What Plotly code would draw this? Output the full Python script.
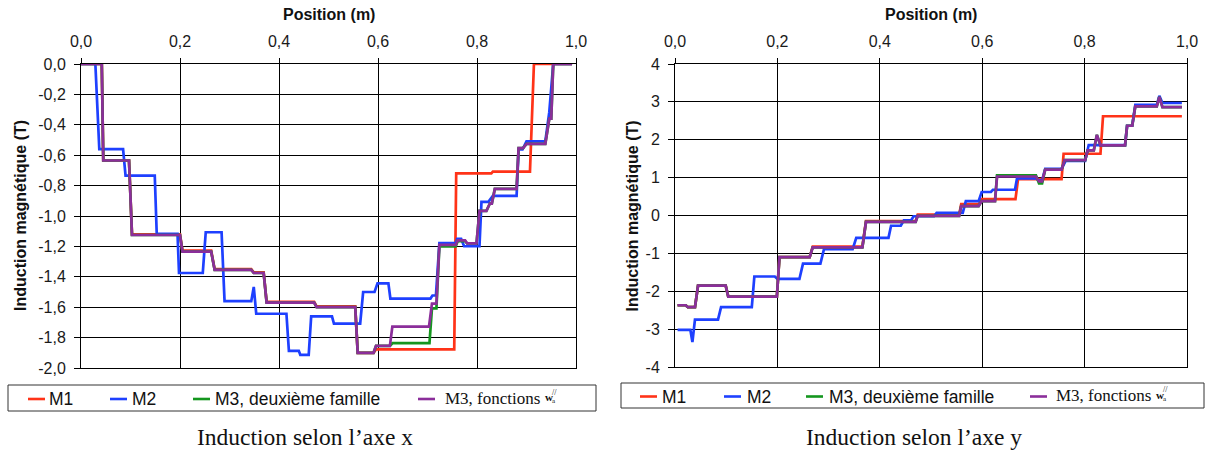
import plotly.graph_objects as go

# ---------------------------------------------------------------------------
# Induction along x (T) versus position (m)
# ---------------------------------------------------------------------------
bx_m1_x = [0.0, 0.042, 0.045, 0.097, 0.103, 0.200, 0.205, 0.263, 0.270, 0.344, 0.349,
           0.369, 0.375, 0.471, 0.476, 0.554, 0.559, 0.591, 0.596, 0.754, 0.758, 0.829,
           0.832, 0.907, 0.915, 0.992]
bx_m1_y = [0.0, 0.0, -0.635, -0.635, -1.12, -1.12, -1.228, -1.228, -1.35, -1.35, -1.37,
           -1.37, -1.565, -1.565, -1.595, -1.595, -1.90, -1.90, -1.878, -1.878, -0.719,
           -0.719, -0.708, -0.708, 0.0, 0.0]

bx_m2_x = [0.0, 0.029, 0.037, 0.085, 0.090, 0.149, 0.153, 0.195, 0.198, 0.246, 0.252,
           0.284, 0.290, 0.344, 0.349, 0.354, 0.415, 0.420, 0.440, 0.443, 0.460, 0.465,
           0.507, 0.511, 0.564, 0.570, 0.593, 0.599, 0.621, 0.625, 0.706, 0.710, 0.717,
           0.724, 0.757, 0.760, 0.768, 0.774, 0.805, 0.809, 0.823, 0.832, 0.880, 0.884,
           0.892, 0.900, 0.938, 0.946, 0.954, 0.992]
bx_m2_y = [0.0, 0.0, -0.56, -0.56, -0.735, -0.735, -1.118, -1.118, -1.375, -1.375, -1.107,
           -1.107, -1.56, -1.56, -1.467, -1.643, -1.643, -1.887, -1.887, -1.913, -1.913,
           -1.66, -1.66, -1.708, -1.708, -1.50, -1.50, -1.443, -1.443, -1.543, -1.543,
           -1.523, -1.523, -1.179, -1.179, -1.151, -1.151, -1.199, -1.199, -0.907, -0.907,
           -0.867, -0.867, -0.562, -0.562, -0.509, -0.509, -0.317, 0.0, 0.0]

bx_m3f_x = [0.0, 0.042, 0.045, 0.097, 0.103, 0.200, 0.205, 0.263, 0.270, 0.344, 0.349,
            0.369, 0.375, 0.471, 0.476, 0.554, 0.559, 0.591, 0.596, 0.624, 0.629, 0.704,
            0.709, 0.718, 0.724, 0.757, 0.761, 0.776, 0.780, 0.799, 0.805, 0.819, 0.826,
            0.830, 0.836, 0.880, 0.884, 0.893, 0.900, 0.938, 0.946, 0.950, 0.954, 0.992]
bx_m3f_y = [0.0, 0.0, -0.635, -0.635, -1.125, -1.125, -1.235, -1.235, -1.355, -1.355,
            -1.375, -1.375, -1.57, -1.57, -1.60, -1.60, -1.90, -1.90, -1.855, -1.855,
            -1.837, -1.837, -1.608, -1.608, -1.20, -1.20, -1.165, -1.165, -1.18, -1.18,
            -0.966, -0.966, -0.918, -0.918, -0.822, -0.822, -0.553, -0.553, -0.525, -0.525,
            -0.36, -0.36, 0.0, 0.0]

bx_m3w_x = [0.0, 0.042, 0.045, 0.097, 0.103, 0.200, 0.205, 0.263, 0.270, 0.344, 0.349,
            0.369, 0.375, 0.471, 0.476, 0.554, 0.559, 0.591, 0.596, 0.624, 0.629, 0.703,
            0.709, 0.718, 0.724, 0.757, 0.761, 0.776, 0.780, 0.799, 0.805, 0.819, 0.826,
            0.830, 0.836, 0.880, 0.884, 0.893, 0.900, 0.938, 0.946, 0.950, 0.954, 0.992]
bx_m3w_y = [0.0, 0.0, -0.635, -0.635, -1.125, -1.125, -1.235, -1.235, -1.355, -1.355,
            -1.375, -1.375, -1.57, -1.57, -1.60, -1.60, -1.90, -1.90, -1.855, -1.855,
            -1.728, -1.728, -1.576, -1.576, -1.19, -1.19, -1.16, -1.16, -1.18, -1.18,
            -0.966, -0.966, -0.918, -0.918, -0.822, -0.822, -0.553, -0.553, -0.525, -0.525,
            -0.36, -0.36, 0.0, 0.0]

# ---------------------------------------------------------------------------
# Induction along y (T) versus position (m)
# ---------------------------------------------------------------------------
by_m1_x = [0.005, 0.021, 0.025, 0.039, 0.045, 0.099, 0.104, 0.199, 0.204, 0.263, 0.269,
           0.366, 0.373, 0.470, 0.474, 0.555, 0.559, 0.593, 0.599, 0.665, 0.670, 0.755,
           0.759, 0.831, 0.836, 0.990]
by_m1_y = [-2.37, -2.37, -2.42, -2.42, -1.85, -1.85, -2.14, -2.14, -1.10, -1.10, -0.82,
           -0.82, -0.15, -0.15, 0.025, 0.025, 0.30, 0.30, 0.43, 0.43, 0.96, 0.96, 1.63,
           1.63, 2.62, 2.62]

by_m2_x = [0.005, 0.030, 0.034, 0.039, 0.084, 0.090, 0.150, 0.155, 0.195, 0.200, 0.243,
           0.250, 0.284, 0.291, 0.347, 0.354, 0.417, 0.422, 0.441, 0.447, 0.461, 0.466,
           0.506, 0.511, 0.562, 0.568, 0.593, 0.599, 0.617, 0.621, 0.664, 0.668, 0.705,
           0.711, 0.717, 0.723, 0.755, 0.763, 0.801, 0.808, 0.879, 0.883, 0.893, 0.899,
           0.941, 0.946, 0.952, 0.990]
by_m2_y = [-3.02, -3.02, -3.34, -2.75, -2.75, -2.42, -2.42, -1.61, -1.61, -1.675, -1.675,
           -1.27, -1.27, -0.89, -0.89, -0.59, -0.59, -0.27, -0.27, -0.13, -0.13, -0.02,
           -0.02, 0.07, 0.07, 0.38, 0.38, 0.62, 0.62, 0.68, 0.68, 0.98, 0.98, 0.93, 0.93,
           1.23, 1.23, 1.44, 1.44, 1.86, 1.86, 2.37, 2.37, 2.92, 2.92, 3.16, 2.97, 2.97]

by_m3f_x = [0.005, 0.021, 0.025, 0.039, 0.045, 0.099, 0.104, 0.199, 0.204, 0.263, 0.269,
            0.366, 0.373, 0.470, 0.474, 0.555, 0.559, 0.593, 0.599, 0.625, 0.629, 0.705,
            0.711, 0.717, 0.723, 0.755, 0.761, 0.801, 0.806, 0.818, 0.824, 0.831, 0.879,
            0.883, 0.893, 0.899, 0.941, 0.946, 0.952, 0.990]
by_m3f_y = [-2.37, -2.37, -2.42, -2.42, -1.85, -1.85, -2.14, -2.14, -1.10, -1.10, -0.84,
            -0.84, -0.17, -0.17, -0.01, -0.01, 0.25, 0.25, 0.38, 0.38, 1.06, 1.06, 0.85,
            0.85, 1.21, 1.21, 1.46, 1.46, 1.72, 1.72, 2.13, 1.85, 1.85, 2.37, 2.37, 2.88,
            2.88, 3.13, 2.86, 2.86]

by_m3w_x = [0.005, 0.021, 0.025, 0.039, 0.045, 0.099, 0.104, 0.199, 0.204, 0.263, 0.269,
            0.366, 0.373, 0.470, 0.474, 0.555, 0.559, 0.593, 0.599, 0.625, 0.629, 0.705,
            0.711, 0.717, 0.723, 0.755, 0.761, 0.801, 0.806, 0.818, 0.824, 0.831, 0.879,
            0.883, 0.893, 0.899, 0.941, 0.946, 0.952, 0.990]
by_m3w_y = [-2.37, -2.37, -2.42, -2.42, -1.85, -1.85, -2.14, -2.14, -1.10, -1.10, -0.84,
            -0.84, -0.17, -0.17, -0.01, -0.01, 0.25, 0.25, 0.38, 0.38, 1.03, 1.03, 0.90,
            0.90, 1.21, 1.21, 1.46, 1.46, 1.72, 1.72, 2.13, 1.85, 1.85, 2.37, 2.37, 2.88,
            2.88, 3.13, 2.86, 2.86]

# Axis ticks
pos_ticks = [0.0, 0.2, 0.4, 0.6, 0.8, 1.0]
pos_labels = ["0,0", "0,2", "0,4", "0,6", "0,8", "1,0"]
bx_ticks = [0.0, -0.2, -0.4, -0.6, -0.8, -1.0, -1.2, -1.4, -1.6, -1.8, -2.0]
bx_labels = ["0,0", "-0,2", "-0,4", "-0,6", "-0,8", "-1,0", "-1,2", "-1,4", "-1,6", "-1,8", "-2,0"]
by_ticks = [4, 3, 2, 1, 0, -1, -2, -3, -4]
by_labels = ["4", "3", "2", "1", "0", "-1", "-2", "-3", "-4"]

series_names = ["M1", "M2", "M3, deuxième famille", "M3, fonctions"]
series_colors = ["#FF3318", "#1E40FF", "#14961E", "#8B2E9A"]

SANS = "Liberation Sans, Arial, sans-serif"
SERIF = "Liberation Serif, Times New Roman, serif"

W, H = 1207, 452


def px(x):
    return x / W


def py(y):
    return 1 - y / H


def label(text, x, y, size, family=SANS, xanchor="center", angle=0):
    return dict(text=text, x=px(x), y=py(y), xref="paper", yref="paper",
                xanchor=xanchor, yanchor="middle", textangle=angle, showarrow=False,
                font=dict(family=family, size=size, color="#111"))


fig = go.Figure()

left_data = [(bx_m1_x, bx_m1_y), (bx_m2_x, bx_m2_y), (bx_m3f_x, bx_m3f_y), (bx_m3w_x, bx_m3w_y)]
right_data = [(by_m1_x, by_m1_y), (by_m2_x, by_m2_y), (by_m3f_x, by_m3f_y), (by_m3w_x, by_m3w_y)]

for (xs, ys), name, col in zip(left_data, series_names, series_colors):
    fig.add_trace(go.Scatter(x=xs, y=ys, mode="lines", name=name, showlegend=False,
                             line=dict(color=col, width=2.7), xaxis="x", yaxis="y"))
for (xs, ys), name, col in zip(right_data, series_names, series_colors):
    fig.add_trace(go.Scatter(x=xs, y=ys, mode="lines", name=name, showlegend=False,
                             line=dict(color=col, width=2.7), xaxis="x2", yaxis="y2"))

# plot areas in pixels: x0, x1, top, bottom
L_PLOT = (81, 576, 64, 368)
R_PLOT = (675, 1187, 64, 367)

axis_common = dict(showline=True, linecolor="#000", linewidth=1, mirror=True,
                   showgrid=True, gridcolor="#000", gridwidth=1, zeroline=False,
                   ticks="outside", tickcolor="#000", automargin=False,
                   tickfont=dict(family=SANS, size=16, color="#1a1a1a"))

fig.update_layout(
    width=W, height=H, margin=dict(l=0, r=0, t=0, b=0, pad=0, autoexpand=False),
    paper_bgcolor="white", plot_bgcolor="white",
    xaxis=dict(domain=[px(L_PLOT[0]), px(L_PLOT[1])], anchor="y", side="top", range=[0, 1],
               tickvals=pos_ticks, ticktext=pos_labels, ticklen=5, ticklabelstandoff=5,
               **axis_common),
    yaxis=dict(domain=[py(L_PLOT[3]), py(L_PLOT[2])], anchor="x", range=[-2, 0],
               tickvals=bx_ticks, ticktext=bx_labels, ticklen=6, ticklabelstandoff=5,
               **axis_common),
    xaxis2=dict(domain=[px(R_PLOT[0]), px(R_PLOT[1])], anchor="y2", side="top", range=[0, 1],
                tickvals=pos_ticks, ticktext=pos_labels, ticklen=5, ticklabelstandoff=5,
                **axis_common),
    yaxis2=dict(domain=[py(R_PLOT[3]), py(R_PLOT[2])], anchor="x2", range=[-4, 4],
                tickvals=by_ticks, ticktext=by_labels, ticklen=6, ticklabelstandoff=5,
                **axis_common),
)

annotations = []
shapes = []

for plot, caption, ytitle_x, cap_x in [(L_PLOT, "Induction selon l’axe x", 20, 305),
                                       (R_PLOT, "Induction selon l’axe y", 632, 914)]:
    cx = (plot[0] + plot[1]) / 2
    annotations.append(label("<b>Position (m)</b>", cx, 15, 16))
    annotations.append(label("<b>Induction magnétique (T)</b>", ytitle_x,
                             (plot[2] + plot[3]) / 2, 16, angle=-90))
    annotations.append(label(caption, cap_x, 437, 23.5, family=SERIF))

# legend boxes: (box x0, x1, y0, y1, line starts, text starts)
legend_specs = [
    (8, 596, 385, 411, [28, 110, 193, 418], [47, 130, 213, 443]),
    (621, 1204, 383, 408, [640, 724, 806, 1030], [660, 745, 827, 1054]),
]
for bx0, bx1, by0, by1, line_x, text_x in legend_specs:
    shapes.append(dict(type="rect", xref="paper", yref="paper", x0=px(bx0), x1=px(bx1),
                       y0=py(by1), y1=py(by0), line=dict(color="#333", width=1)))
    yc = (by0 + by1) / 2 + 1
    for i, (lx, tx) in enumerate(zip(line_x, text_x)):
        shapes.append(dict(type="line", xref="paper", yref="paper", x0=px(lx), x1=px(lx + 17),
                           y0=py(yc), y1=py(yc), line=dict(color=series_colors[i], width=2.6)))
        if i < 3:
            annotations.append(label(series_names[i], tx, yc, 17.5, xanchor="left"))
        else:
            annotations.append(label(series_names[i], tx, yc - 1, 17, family=SERIF, xanchor="left"))
            wx = tx + 100
            annotations.append(label("<b>w</b>", wx, yc - 2, 11, family=SERIF, xanchor="left"))
            annotations.append(label("//", wx + 7, yc - 7, 8, family=SERIF, xanchor="left"))
            annotations.append(label("a", wx + 7, yc + 2, 7, family=SERIF, xanchor="left"))

fig.update_layout(annotations=annotations, shapes=shapes)

fig.write_html("out.html")
